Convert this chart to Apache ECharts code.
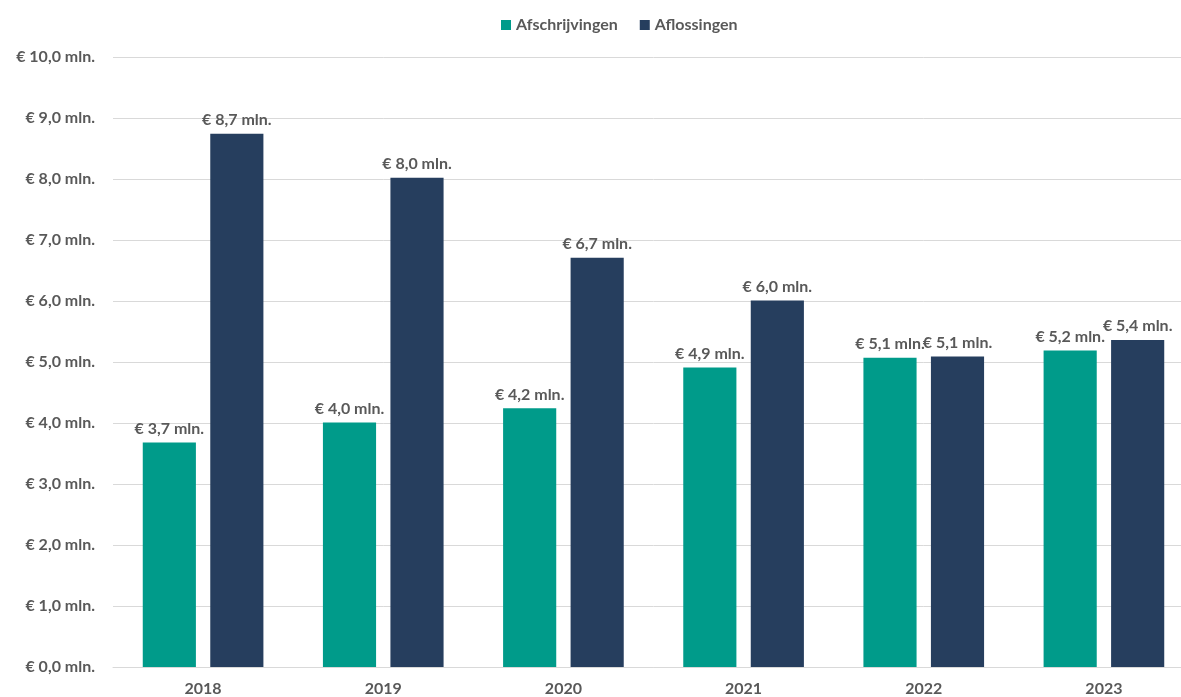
<!DOCTYPE html>
<html>
<head>
<meta charset="utf-8">
<script src="https://cdn.jsdelivr.net/npm/echarts@6/dist/echarts.min.js"></script>
<style>
  html, body { margin: 0; padding: 0; background: #fff; overflow: hidden; }
  #chart { width: 1194px; height: 697px; }
</style>
</head>
<body>
<div id="chart"></div>
<script>
const years = ['2018', '2019', '2020', '2021', '2022', '2023']
const afschrijvingen = [3.68, 4.01, 4.24, 4.91, 5.07, 5.19]
const aflossingen = [8.74, 8.02, 6.71, 6.01, 5.09, 5.36]

const fmt = v => '€ ' + v.toFixed(1).replace('.', ',') + ' mln.'
const textColor = '#595959'
const font = 'Lato'

const label = {
  show: true,
  position: 'top',
  distance: 6,
  color: textColor,
  fontFamily: font,
  fontWeight: 'bold',
  fontSize: 16,
  formatter: p => fmt(p.value)
}

const option = {
  animation: false,
  textStyle: { fontFamily: font },
  legend: {
    top: 12,
    left: 496,
    itemWidth: 10,
    itemHeight: 10,
    itemGap: 22,
    icon: 'rect',
    textStyle: { color: textColor, fontFamily: font, fontWeight: 'bold', fontSize: 16 },
    data: ['Afschrijvingen', 'Aflossingen']
  },
  // the plot runs a bit past the right edge of the picture
  grid: { left: 113, right: 0, top: 57, bottom: 29, containLabel: false },
  xAxis: {
    type: 'category',
    data: years,
    axisLine: { lineStyle: { color: '#d9d9d9' } },
    axisTick: { show: false },
    axisLabel: { color: textColor, fontFamily: font, fontWeight: 'bold', fontSize: 16, margin: 14 }
  },
  yAxis: {
    type: 'value',
    min: 0,
    max: 10,
    interval: 1,
    axisLine: { show: false },
    axisTick: { show: false },
    splitLine: { lineStyle: { color: '#d9d9d9' } },
    axisLabel: {
      color: textColor, fontFamily: font, fontWeight: 'bold', fontSize: 16, margin: 18,
      formatter: v => fmt(v)
    }
  },
  series: [
    {
      name: 'Afschrijvingen',
      type: 'bar',
      data: afschrijvingen,
      barWidth: '29.5%',
      barGap: '27%',
      itemStyle: { color: '#009B8A' },
      label
    },
    {
      name: 'Aflossingen',
      type: 'bar',
      data: aflossingen,
      barWidth: '29.5%',
      itemStyle: { color: '#263E5E' },
      label
    }
  ]
}

const chart = echarts.init(document.getElementById('chart'))
chart.setOption(option)
</script>
</body>
</html>
